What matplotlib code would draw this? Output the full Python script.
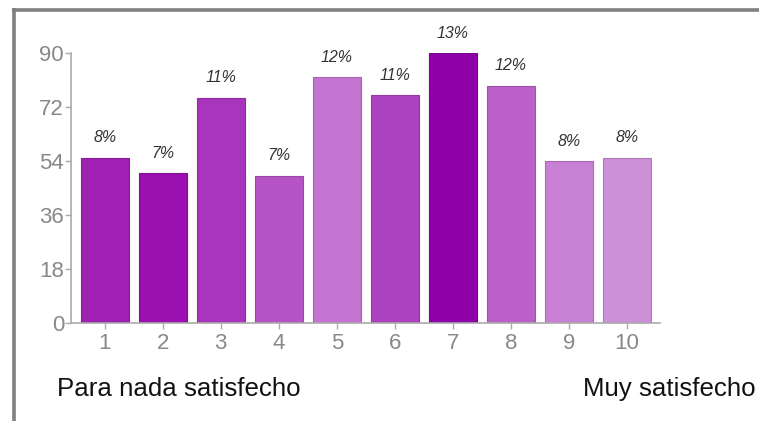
import matplotlib
matplotlib.use("Agg")
import matplotlib.pyplot as plt
from matplotlib.lines import Line2D
from matplotlib.colors import to_rgb

plt.rcParams['font.family'] = ['Liberation Sans', 'DejaVu Sans']

# Survey responses per satisfaction level
categories = ["1", "2", "3", "4", "5", "6", "7", "8", "9", "10"]
counts = [55, 50, 75, 49, 82, 76, 90, 79, 54, 55]
pct_labels = ["8%", "7%", "11%", "7%", "12%", "11%", "13%", "12%", "8%", "8%"]
y_ticks = [0, 18, 36, 54, 72, 90]
low_label = "Para nada satisfecho"
high_label = "Muy satisfecho"

bar_colors = ["#a020b4", "#9a10b0", "#a835bc", "#b552c6", "#c274d0",
              "#ad42c0", "#9000a8", "#bb60c9", "#c880d4", "#cc8fd8"]

W, H = 759, 421
fig = plt.figure(figsize=(W / 100, H / 100), dpi=100)
fig.patch.set_facecolor("white")

# plot area in pixel coordinates
left_px, right_px, top_px, bottom_px = 71, 660, 53, 323
ax = fig.add_axes([left_px / W, (H - bottom_px) / H,
                   (right_px - left_px) / W, (bottom_px - top_px) / H])

x = list(range(1, len(categories) + 1))
edge = [tuple(c * 0.85 for c in to_rgb(col)) for col in bar_colors]
bars = ax.bar(x, counts, width=0.83, color=bar_colors, edgecolor=edge,
              linewidth=0.8, zorder=2)

for xi, val, lab in zip(x, counts, pct_labels):
    ax.annotate(lab, (xi, val), xytext=(0, 9), textcoords="offset points",
                ha="center", va="bottom", fontsize=11.5, style="italic",
                color="#333333", annotation_clip=False)

ax.set_xlim(0.42, 10.57)
ax.set_ylim(0, 90)
ax.set_yticks(y_ticks)
ax.set_xticks(x)
ax.set_xticklabels(categories)

for side in ("top", "right"):
    ax.spines[side].set_visible(False)
for side in ("left", "bottom"):
    ax.spines[side].set_color("#aaaaaa")
    ax.spines[side].set_linewidth(1.2)

ax.tick_params(axis="both", colors="#aaaaaa", length=4, width=1,
               labelcolor="#888888", labelsize=16)
ax.tick_params(axis="x", pad=3)
ax.tick_params(axis="y", pad=1)

# end-of-scale captions
fig.text(57 / W, 1 - 396 / H, low_label, fontsize=18.6, color="#111111",
         ha="left", va="baseline")
fig.text(756 / W, 1 - 396 / H, high_label, fontsize=18.6, color="#111111",
         ha="right", va="baseline")

# surrounding frame
frame_kw = dict(color="#808080", linewidth=2.6, transform=fig.transFigure,
                solid_capstyle="butt")
fig.add_artist(Line2D([13.5 / W, 13.5 / W], [0, 1 - 8 / H], **frame_kw))
fig.add_artist(Line2D([12 / W, 1], [1 - 9.5 / H, 1 - 9.5 / H], **frame_kw))

fig.savefig("out.png", dpi=100, facecolor=fig.get_facecolor())
